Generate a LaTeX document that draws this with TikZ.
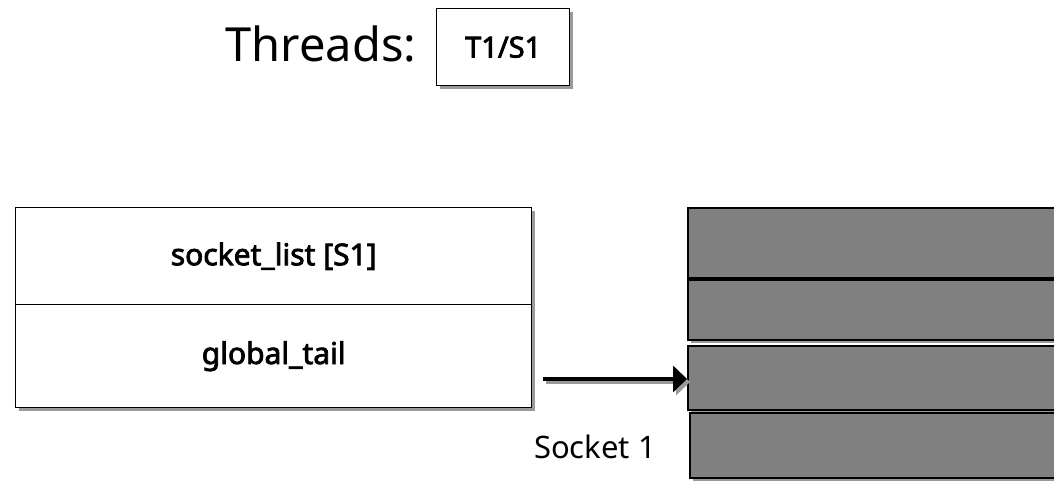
\documentclass[tikz,border=0pt]{standalone}
\usepackage{fontspec}
\setmainfont{Noto Sans}
\newfontfamily\heavysans{Noto Sans}[FakeBold=2.6]
\usetikzlibrary{shadows,arrows.meta}
\definecolor{cellgray}{HTML}{808080}
\definecolor{shadegray}{HTML}{9A9A9A}
\tikzset{
  shade3/.style={drop shadow={shadow xshift=3pt,shadow yshift=-3pt,fill=shadegray,opacity=1}},
  whitecell/.style={draw=black,line width=1.4pt,fill=white,shade3,inner sep=0pt,anchor=north west,
    font=\heavysans\fontsize{30}{35}\selectfont},
  graycell/.style={draw=black,line width=1.8pt,fill=cellgray,shade3,inner sep=0pt,anchor=north west},
  plain/.style={inner sep=0pt,anchor=base}
}
\begin{document}
\begin{tikzpicture}[x=1pt,y=-1pt]
\useasboundingbox (0,0) rectangle (1054,481);
\clip (0,0) rectangle (1054,481);
% title with the thread box
\node[plain,font=\fontsize{47}{54}\selectfont] (title) at (321,62) {Threads:};
\node[whitecell,minimum width=133pt,minimum height=77pt,font=\heavysans\fontsize{29}{34}\selectfont] (thr) at (436,8) {T1/S1};
% struct with two fields
\node[whitecell,minimum width=516pt,minimum height=97pt] (slist) at (15,207) {socket\_list [S1]};
\node[whitecell,minimum width=516pt,minimum height=103pt] (gtail) at (15,304) {global\_tail};
% socket buffer slots
\node[graycell,minimum width=373pt,minimum height=70pt] (s1) at (687,207) {};
\node[graycell,minimum width=373pt,minimum height=60pt] (s2) at (687,279) {};
\node[graycell,minimum width=373pt,minimum height=64pt] (s3) at (687,345) {};
\node[graycell,minimum width=371pt,minimum height=65pt] (s4) at (689,412) {};
% tail pointer
\coordinate (tailstart) at (543,379);
\draw[shadegray,line width=4pt,-{Triangle[length=14pt,width=26pt]}] ([shift={(3,3)}]tailstart) -- ([shift={(3,3)}]tailstart -| s3.west);
\draw[black,line width=4pt,-{Triangle[length=14pt,width=26pt]}] (tailstart) -- (tailstart -| s3.west);
\node[plain,font=\fontsize{31}{36}\selectfont] (sock) at (595,458) {Socket 1};
\end{tikzpicture}
\end{document}
